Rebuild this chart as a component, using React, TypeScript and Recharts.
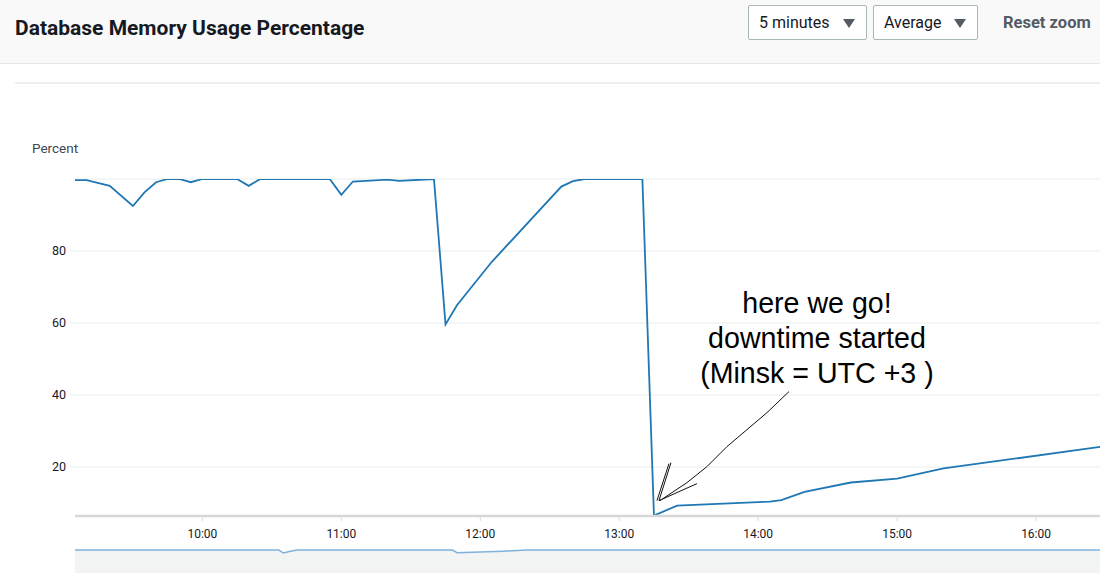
import {
  Area,
  AreaChart,
  CartesianGrid,
  Line,
  LineChart,
  ReferenceDot,
  XAxis,
  YAxis,
} from "recharts";

// time in minutes since midnight, value in percent (vertices)
const times = [
  545, 550, 560, 570, 575, 580, 585, 590, 595, 600, 615, 620, 625, 655, 660,
  665, 680, 685, 700, 705, 710, 725, 755, 760, 765, 790, 795, 805, 845, 850,
  860, 880, 900, 920, 990,
];
const memory = [
  99.7, 99.7, 98.1, 92.5, 96.3, 99.1, 100, 100, 99.1, 100, 100, 98.1, 100, 100,
  95.6, 99.3, 99.8, 99.5, 100, 59.6, 65, 77, 97.9, 99.4, 100, 100, 6.5, 9.3,
  10.4, 10.8, 13.1, 15.7, 16.8, 19.6, 25.8,
];

// overview strip at the bottom
const navTimes = [545, 633, 635, 638, 641, 708, 710, 730, 740, 990];
const navValues = [62, 62, 54, 59, 62, 62, 55, 59, 62, 62];

const xTicks = [600, 660, 720, 780, 840, 900, 960];
const yTicks = [20, 40, 60, 80];

const chartData = times.map((t, i) => ({ t, value: memory[i] }));
const navData = navTimes.map((t, i) => ({ t, value: navValues[i] }));

const formatTime = (m: number) => {
  const h = Math.floor(m / 60);
  const mm = m % 60;
  return `${h}:${mm < 10 ? "0" : ""}${mm}`;
};

const uiFont = "Roboto, 'Open Sans', sans-serif";

// hand-drawn note, placed relative to the lowest point of the drop
const Annotation = (props: any) => {
  const { cx, cy } = props;
  if (cx == null || cy == null) return null;
  const pts: Array<[number, number]> = [
    [135, -124],
    [113, -103],
    [93, -86],
    [73, -69],
    [53, -49],
    [33, -33],
    [6, -15],
  ];
  const d = pts
    .map(([dx, dy], i) => `${i === 0 ? "M" : "L"}${cx + dx},${cy + dy}`)
    .join(" ");
  const tipX = cx + 5;
  const tipY = cy - 15;
  return (
    <g>
      <path d={d} fill="none" stroke="#111" strokeWidth={1} />
      <path
        d={`M${tipX},${tipY} L${cx + 17},${cy - 53} M${tipX - 2},${tipY} L${cx + 15},${cy - 52} M${tipX},${tipY} L${cx + 43},${cy - 32}`}
        fill="none"
        stroke="#111"
        strokeWidth={1}
      />
      <text
        fill="#000"
        fontFamily="'Liberation Sans', Arial, sans-serif"
        fontSize={28.6}
        textAnchor="middle"
        x={cx + 163}
      >
        <tspan x={cx + 163} y={cy - 203}>
          here we go!
        </tspan>
        <tspan x={cx + 163} y={cy - 168}>
          downtime started
        </tspan>
        <tspan x={cx + 163} y={cy - 133}>
          (Minsk = UTC +3 )
        </tspan>
      </text>
    </g>
  );
};

const Dropdown = ({ label, left, width }: { label: string; left: number; width: number }) => (
  <div
    style={{
      position: "absolute",
      left,
      top: 5,
      width,
      height: 35,
      boxSizing: "border-box",
      border: "1px solid #aab7b8",
      borderRadius: 2,
      background: "#fff",
      display: "flex",
      alignItems: "center",
      justifyContent: "space-between",
      padding: "0 11px 0 10px",
      fontFamily: uiFont,
      fontSize: 16,
      color: "#16191f",
    }}
  >
    <span>{label}</span>
    <svg height={10} width={12}>
      <path d="M0,1 L12,1 L6,10 Z" fill="#545b64" />
    </svg>
  </div>
);

export default function App() {
  return (
    <div
      style={{
        position: "absolute",
        left: 0,
        top: 0,
        width: 1100,
        height: 573,
        background: "#fff",
        overflow: "hidden",
      }}
    >
      {/* header */}
      <div
        style={{
          position: "absolute",
          left: 0,
          top: 0,
          width: 1100,
          height: 63,
          background: "#f9f9f9",
          borderBottom: "1px solid #e6e8e8",
        }}
      />
      <div
        style={{
          position: "absolute",
          left: 15,
          top: 16,
          fontFamily: uiFont,
          fontWeight: 700,
          fontSize: 21,
          color: "#16191f",
        }}
      >
        Database Memory Usage Percentage
      </div>
      <Dropdown label="5 minutes" left={748} width={119} />
      <Dropdown label="Average" left={873} width={105} />
      <div
        style={{
          position: "absolute",
          left: 1003,
          top: 13,
          fontFamily: uiFont,
          fontWeight: 700,
          fontSize: 16.5,
          color: "#545b64",
        }}
      >
        Reset zoom
      </div>
      <div
        style={{
          position: "absolute",
          left: 15,
          top: 82,
          width: 1085,
          height: 2,
          background: "#eeeeee",
        }}
      />
      <div
        style={{
          position: "absolute",
          left: 32,
          top: 140,
          fontFamily: uiFont,
          fontSize: 13.5,
          color: "#414750",
        }}
      >
        Percent
      </div>

      {/* overview strip */}
      <div style={{ position: "absolute", left: 0, top: 536 }}>
        <AreaChart
          data={navData}
          height={37}
          margin={{ top: 0, right: 0, bottom: 0, left: 75 }}
          width={1100}
        >
          <XAxis
            allowDataOverflow
            dataKey="t"
            domain={[545, 987.6]}
            hide
            type="number"
          />
          <YAxis domain={[0, 100]} hide type="number" />
          <Area
            dataKey="value"
            fill="#f3f4f4"
            fillOpacity={1}
            isAnimationActive={false}
            stroke="#7eb2dd"
            strokeWidth={1.5}
            type="linear"
          />
        </AreaChart>
      </div>

      {/* main chart */}
      <div style={{ position: "absolute", left: 0, top: 0 }}>
        <LineChart
          data={chartData}
          height={573}
          margin={{ top: 179, right: 0, bottom: 0, left: 0 }}
          width={1100}
        >
          <CartesianGrid horizontal stroke="#eaeded" vertical={false} />
          <XAxis
            allowDataOverflow
            axisLine={{ stroke: "#d5d7d8", strokeWidth: 2.5 }}
            dataKey="t"
            domain={[545, 987.6]}
            height={57}
            tick={{ fill: "#16191f", fontSize: 12, fontFamily: uiFont }}
            tickFormatter={formatTime}
            tickLine={{ stroke: "#dcdcdc" }}
            tickMargin={8}
            tickSize={5}
            ticks={xTicks}
            type="number"
          />
          <YAxis
            allowDataOverflow
            axisLine={false}
            domain={[6.4, 100]}
            tick={{ fill: "#16191f", fontSize: 12.5, fontFamily: uiFont }}
            tickLine={{ stroke: "#eaeded" }}
            tickMargin={4}
            tickSize={5}
            ticks={yTicks}
            type="number"
            width={75}
          />
          <Line
            dataKey="value"
            dot={false}
            isAnimationActive={false}
            stroke="#1f77b4"
            strokeWidth={1.8}
            type="linear"
          />
          <ReferenceDot
            r={0}
            shape={(p: any) => <Annotation {...p} />}
            x={795}
            y={6.5}
          />
        </LineChart>
      </div>
    </div>
  );
}
